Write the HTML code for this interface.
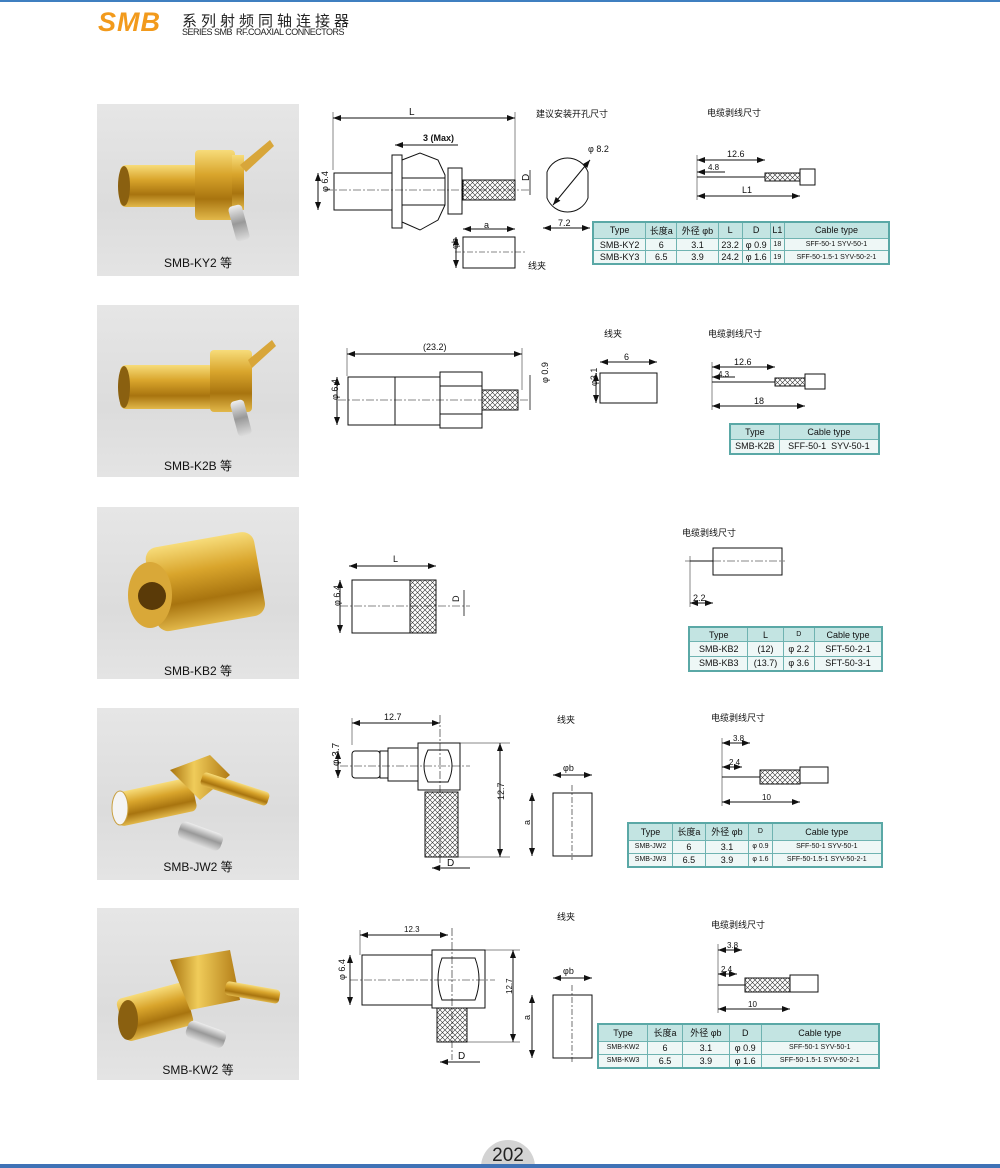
<!DOCTYPE html>
<html><head><meta charset="utf-8">
<style>
html,body{margin:0;padding:0;background:#fff;}
body{width:1000px;height:1168px;position:relative;overflow:hidden;font-family:"Liberation Sans","Noto Sans CJK SC",sans-serif;}
.abs{position:absolute;}
table.t{position:absolute;border-collapse:collapse;border:2px solid #5aa8a6;font-family:"Liberation Sans","Noto Sans CJK SC",sans-serif;color:#111;}
table.t td{border:1px solid #6fb3b1;text-align:center;padding:0;font-size:9px;background:#eef7f6;white-space:nowrap;}
table.t tr.h td{background:#c3e4e2;}
.photo{position:absolute;left:97px;width:202px;height:172px;background:linear-gradient(180deg,#e6e6e6,#dcdcdc 60%,#e4e4e4);}
.plab{position:absolute;left:0;width:202px;text-align:center;font-size:12px;color:#111;}
</style></head><body>
<div class="abs" style="left:0;top:0;width:1000px;height:2px;background:#3f7fc0"></div>
<div class="abs" style="left:98px;top:7px;font:italic bold 27px 'Liberation Sans',sans-serif;color:#f29a1c;letter-spacing:1px">SMB</div>
<div class="abs" style="left:182px;top:10px;font-size:15px;letter-spacing:4px;color:#222;font-family:'Noto Sans CJK SC',sans-serif">系列射频同轴连接器</div>
<div class="abs" style="left:182px;top:27px;font-size:9px;color:#222;letter-spacing:-0.5px">SERIES SMB &nbsp;RF.COAXIAL CONNECTORS</div>

<!-- photos -->
<div class="photo" style="top:104px"><div class="plab" style="top:150px">SMB-KY2 等</div></div>
<div class="photo" style="top:305px"><div class="plab" style="top:152px">SMB-K2B 等</div></div>
<div class="photo" style="top:507px"><div class="plab" style="top:155px">SMB-KB2 等</div></div>
<div class="photo" style="top:708px"><div class="plab" style="top:150px">SMB-JW2 等</div></div>
<div class="photo" style="top:908px"><div class="plab" style="top:153px">SMB-KW2 等</div></div>

<svg class="abs" style="left:0;top:0" width="1000" height="1168" viewBox="0 0 1000 1168">
<defs>
<linearGradient id="g" x1="0" y1="0" x2="0" y2="1"><stop offset="0" stop-color="#f7dc7a"/><stop offset="0.35" stop-color="#d9a52c"/><stop offset="0.7" stop-color="#a8740f"/><stop offset="1" stop-color="#e2b84a"/></linearGradient>
<linearGradient id="gh" x1="0" y1="0" x2="1" y2="0"><stop offset="0" stop-color="#a8740f"/><stop offset="0.4" stop-color="#f0cc5a"/><stop offset="1" stop-color="#b07a14"/></linearGradient>
<linearGradient id="s" x1="0" y1="0" x2="0" y2="1"><stop offset="0" stop-color="#eee"/><stop offset="0.5" stop-color="#999"/><stop offset="1" stop-color="#ddd"/></linearGradient>
<pattern id="hx" width="5" height="5" patternUnits="userSpaceOnUse"><path d="M0 0L5 5M5 0L0 5" stroke="#333" stroke-width="0.6"/></pattern>
<marker id="a" markerWidth="8" markerHeight="6" refX="8" refY="3" orient="auto-start-reverse" markerUnits="userSpaceOnUse"><path d="M0 0L8 3L0 6z" fill="#111"/></marker>
</defs>

<!-- photo connectors -->
<g>
 <rect x="120" y="165" width="80" height="42" rx="6" fill="url(#g)"/>
 <ellipse cx="124" cy="186" rx="6" ry="20" fill="#8a6010"/>
 <rect x="195" y="150" width="40" height="70" rx="4" fill="url(#g)"/>
 <rect x="232" y="155" width="12" height="55" fill="url(#g)"/>
 <path d="M240 165L270 140L274 146L246 172z" fill="#d8a63a"/>
 <rect x="232" y="205" width="14" height="36" rx="4" fill="url(#s)" transform="rotate(-15 239 223)"/>

 <rect x="120" y="365" width="95" height="44" rx="6" fill="url(#g)"/>
 <ellipse cx="124" cy="387" rx="6" ry="21" fill="#8a6010"/>
 <rect x="210" y="350" width="42" height="62" rx="4" fill="url(#g)"/>
 <path d="M248 360L272 340L276 346L252 368z" fill="#d8a63a"/>
 <rect x="234" y="400" width="14" height="36" rx="4" fill="url(#s)" transform="rotate(-15 241 418)"/>

 <rect x="150" y="540" width="110" height="85" rx="12" fill="url(#g)" transform="rotate(-10 200 580)"/>
 <ellipse cx="150" cy="595" rx="22" ry="33" fill="#d9a838"/>
 <circle cx="152" cy="596" r="14" fill="#5a3a08"/>

 <rect x="115" y="785" width="80" height="34" rx="6" fill="url(#g)" transform="rotate(-12 155 802)"/>
 <ellipse cx="120" cy="808" rx="8" ry="17" fill="#f4f4f4" stroke="#c9a040"/>
 <path d="M170 770L210 755L230 775L200 800z" fill="url(#gh)"/>
 <rect x="200" y="782" width="70" height="14" rx="4" fill="url(#g)" transform="rotate(18 235 789)"/>
 <rect x="178" y="827" width="45" height="18" rx="6" fill="url(#s)" transform="rotate(20 200 836)"/>

 <rect x="120" y="990" width="70" height="44" rx="6" fill="url(#g)" transform="rotate(-15 155 1012)"/>
 <ellipse cx="128" cy="1020" rx="10" ry="20" fill="#8a6010"/>
 <path d="M170 960L230 950L240 1000L190 1010z" fill="url(#gh)"/>
 <rect x="225" y="985" width="55" height="14" rx="4" fill="url(#g)" transform="rotate(10 250 992)"/>
 <rect x="186" y="1025" width="40" height="18" rx="6" fill="url(#s)" transform="rotate(20 205 1034)"/>
</g>

<g font-family="Liberation Sans, Noto Sans CJK SC, sans-serif" fill="#111" font-size="9" stroke-linecap="butt">
<g fill="none" stroke="#111" stroke-width="1">
<!-- section 1 -->
 <line x1="333" y1="118" x2="515" y2="118" marker-start="url(#a)" marker-end="url(#a)"/>
 <line x1="333" y1="112" x2="333" y2="170" stroke-width="0.5"/><line x1="515" y1="112" x2="515" y2="180" stroke-width="0.5"/>
 <line x1="395" y1="145" x2="420" y2="145" marker-start="url(#a)"/><line x1="420" y1="145" x2="458" y2="145"/>
 <rect x="334" y="173" width="58" height="37"/>
 <rect x="392" y="155" width="10" height="73"/>
 <path d="M402 160L420 153L438 160L445 175L445 205L438 220L420 230L402 222z"/>
 <line x1="402" y1="178" x2="445" y2="178"/><line x1="402" y1="205" x2="445" y2="205"/>
 <rect x="448" y="168" width="14" height="46"/>
 <rect x="463" y="180" width="52" height="20" fill="url(#hx)"/>
 <line x1="325" y1="190" x2="530" y2="190" stroke-dasharray="8 2 2 2" stroke-width="0.6"/>
 <line x1="318" y1="173" x2="318" y2="210" marker-start="url(#a)" marker-end="url(#a)"/>
 <line x1="530" y1="170" x2="530" y2="195" stroke-width="0.8"/>
 <path d="M547 172A22 22 0 0 1 588 172L588 198A22 22 0 0 1 547 198Z"/>
 <line x1="553" y1="205" x2="590" y2="160" marker-start="url(#a)" marker-end="url(#a)"/>
 <line x1="543" y1="228" x2="590" y2="228" marker-start="url(#a)" marker-end="url(#a)"/>
 <line x1="463" y1="229" x2="515" y2="229" marker-start="url(#a)" marker-end="url(#a)"/>
 <rect x="463" y="237" width="52" height="31"/>
 <line x1="455" y1="252" x2="525" y2="252" stroke-dasharray="6 2 2 2" stroke-width="0.6"/>
 <line x1="456" y1="237" x2="456" y2="268" marker-start="url(#a)" marker-end="url(#a)"/>
 <line x1="697" y1="177" x2="765" y2="177"/><rect x="765" y="173" width="35" height="8" fill="url(#hx)"/><rect x="800" y="169" width="15" height="16"/>
 <line x1="697" y1="160" x2="765" y2="160" marker-start="url(#a)" marker-end="url(#a)"/>
 <line x1="697" y1="172" x2="725" y2="172" marker-start="url(#a)"/>
 <line x1="697" y1="196" x2="800" y2="196" marker-start="url(#a)" marker-end="url(#a)"/>
 <line x1="697" y1="155" x2="697" y2="200" stroke-width="0.5"/>
<!-- section 2 -->
 <line x1="347" y1="354" x2="522" y2="354" marker-start="url(#a)" marker-end="url(#a)"/>
 <line x1="347" y1="348" x2="347" y2="376" stroke-width="0.5"/><line x1="522" y1="348" x2="522" y2="390" stroke-width="0.5"/>
 <rect x="348" y="377" width="92" height="48"/><line x1="395" y1="377" x2="395" y2="425"/>
 <path d="M440 372L482 372L482 428L440 428z"/><line x1="440" y1="386" x2="482" y2="386"/><line x1="440" y1="414" x2="482" y2="414"/>
 <rect x="482" y="390" width="36" height="20" fill="url(#hx)"/>
 <line x1="338" y1="400" x2="530" y2="400" stroke-dasharray="8 2 2 2" stroke-width="0.6"/>
 <line x1="337" y1="377" x2="337" y2="425" marker-start="url(#a)" marker-end="url(#a)"/>
 <line x1="530" y1="375" x2="530" y2="410" stroke-width="0.8"/>
 <rect x="600" y="373" width="57" height="30"/><line x1="600" y1="362" x2="657" y2="362" marker-start="url(#a)" marker-end="url(#a)"/>
 <line x1="596" y1="373" x2="596" y2="403" marker-start="url(#a)" marker-end="url(#a)"/>
 <line x1="712" y1="382" x2="775" y2="382"/><rect x="775" y="378" width="30" height="8" fill="url(#hx)"/><rect x="805" y="374" width="20" height="15"/>
 <line x1="712" y1="367" x2="775" y2="367" marker-start="url(#a)" marker-end="url(#a)"/>
 <line x1="712" y1="377" x2="735" y2="377" marker-start="url(#a)"/>
 <line x1="712" y1="406" x2="805" y2="406" marker-start="url(#a)" marker-end="url(#a)"/>
 <line x1="712" y1="362" x2="712" y2="410" stroke-width="0.5"/>
<!-- section 3 -->
 <line x1="349" y1="566" x2="436" y2="566" marker-start="url(#a)" marker-end="url(#a)"/>
 <rect x="352" y="580" width="84" height="53"/><rect x="410" y="580" width="26" height="53" fill="url(#hx)"/>
 <line x1="340" y1="606" x2="470" y2="606" stroke-dasharray="8 2 2 2" stroke-width="0.6"/>
 <line x1="340" y1="580" x2="340" y2="633" marker-start="url(#a)" marker-end="url(#a)"/>
 <line x1="464" y1="590" x2="464" y2="616" stroke-width="0.8"/>
 <line x1="690" y1="561" x2="713" y2="561"/><rect x="713" y="548" width="69" height="27"/>
 <line x1="685" y1="561" x2="785" y2="561" stroke-dasharray="8 2 2 2" stroke-width="0.6"/>
 <line x1="690" y1="556" x2="690" y2="607" stroke-width="0.5"/>
 <line x1="690" y1="603" x2="713" y2="603" marker-start="url(#a)" marker-end="url(#a)"/>
<!-- section 4 -->
 <line x1="352" y1="723" x2="440" y2="723" marker-start="url(#a)" marker-end="url(#a)"/>
 <line x1="352" y1="718" x2="352" y2="745" stroke-width="0.5"/>
 <rect x="352" y="751" width="28" height="27" rx="3"/><rect x="380" y="751" width="8" height="27"/><rect x="388" y="748" width="30" height="33"/>
 <rect x="418" y="743" width="42" height="47"/><path d="M428 750Q420 766 428 782L448 782Q456 766 448 750z"/>
 <rect x="425" y="792" width="33" height="65" fill="url(#hx)"/>
 <line x1="340" y1="766" x2="470" y2="766" stroke-dasharray="8 2 2 2" stroke-width="0.6"/>
 <line x1="440" y1="715" x2="440" y2="870" stroke-dasharray="8 2 2 2" stroke-width="0.6"/>
 <line x1="338" y1="751" x2="338" y2="778" marker-start="url(#a)" marker-end="url(#a)"/>
 <line x1="500" y1="743" x2="500" y2="857" marker-start="url(#a)" marker-end="url(#a)"/>
 <line x1="460" y1="743" x2="510" y2="743" stroke-width="0.5"/><line x1="458" y1="857" x2="510" y2="857" stroke-width="0.5"/>
 <line x1="432" y1="868" x2="470" y2="868" marker-start="url(#a)"/>
 <rect x="553" y="793" width="39" height="63"/>
 <line x1="572" y1="785" x2="572" y2="860" stroke-dasharray="6 2 2 2" stroke-width="0.6"/>
 <line x1="553" y1="775" x2="592" y2="775" marker-start="url(#a)" marker-end="url(#a)"/>
 <line x1="532" y1="793" x2="532" y2="856" marker-start="url(#a)" marker-end="url(#a)"/>
 <line x1="722" y1="777" x2="760" y2="777"/><rect x="760" y="770" width="40" height="14" fill="url(#hx)"/><rect x="800" y="767" width="28" height="16"/>
 <line x1="722" y1="743" x2="750" y2="743" marker-start="url(#a)" marker-end="url(#a)"/>
 <line x1="722" y1="767" x2="742" y2="767" marker-start="url(#a)" marker-end="url(#a)"/>
 <line x1="722" y1="802" x2="800" y2="802" marker-start="url(#a)" marker-end="url(#a)"/>
 <line x1="722" y1="738" x2="722" y2="806" stroke-width="0.5"/>
<!-- section 5 -->
 <line x1="360" y1="935" x2="448" y2="935" marker-start="url(#a)" marker-end="url(#a)"/>
 <line x1="360" y1="930" x2="360" y2="955" stroke-width="0.5"/>
 <rect x="362" y="955" width="70" height="50"/><rect x="432" y="950" width="53" height="58"/>
 <path d="M442 958Q434 979 442 1000L475 1000Q483 979 475 958z"/>
 <rect x="437" y="1008" width="30" height="34" fill="url(#hx)"/>
 <line x1="350" y1="980" x2="495" y2="980" stroke-dasharray="8 2 2 2" stroke-width="0.6"/>
 <line x1="452" y1="928" x2="452" y2="1060" stroke-dasharray="8 2 2 2" stroke-width="0.6"/>
 <line x1="350" y1="955" x2="350" y2="1005" marker-start="url(#a)" marker-end="url(#a)"/>
 <line x1="513" y1="950" x2="513" y2="1042" marker-start="url(#a)" marker-end="url(#a)"/>
 <line x1="485" y1="950" x2="520" y2="950" stroke-width="0.5"/><line x1="467" y1="1042" x2="520" y2="1042" stroke-width="0.5"/>
 <line x1="440" y1="1062" x2="480" y2="1062" marker-start="url(#a)"/>
 <rect x="553" y="995" width="39" height="63"/>
 <line x1="572" y1="985" x2="572" y2="1062" stroke-dasharray="6 2 2 2" stroke-width="0.6"/>
 <line x1="553" y1="978" x2="592" y2="978" marker-start="url(#a)" marker-end="url(#a)"/>
 <line x1="532" y1="995" x2="532" y2="1058" marker-start="url(#a)" marker-end="url(#a)"/>
 <line x1="718" y1="985" x2="745" y2="985"/><rect x="745" y="978" width="45" height="14" fill="url(#hx)"/><rect x="790" y="975" width="28" height="17"/>
 <line x1="718" y1="950" x2="742" y2="950" marker-start="url(#a)" marker-end="url(#a)"/>
 <line x1="718" y1="974" x2="737" y2="974" marker-start="url(#a)" marker-end="url(#a)"/>
 <line x1="718" y1="1009" x2="790" y2="1009" marker-start="url(#a)" marker-end="url(#a)"/>
 <line x1="718" y1="944" x2="718" y2="1013" stroke-width="0.5"/>
</g>
<!-- labels -->
<text x="409" y="115" font-size="10">L</text>
<text x="423" y="141" font-size="9" font-weight="bold">3 (Max)</text>
<text x="320" y="200" font-size="9" transform="rotate(-90 320 192)">φ 6.4</text>
<text x="526" y="188" font-size="10" transform="rotate(-90 524 183)">D</text>
<text x="588" y="152">φ 8.2</text>
<text x="558" y="226">7.2</text>
<text x="484" y="228">a</text>
<text x="455" y="258" transform="rotate(-90 452 252)">φb</text>
<text x="528" y="269" font-size="9">线夹</text>
<text x="536" y="117" font-size="9">建议安装开孔尺寸</text>
<text x="707" y="116" font-size="9">电缆剥线尺寸</text>
<text x="727" y="157">12.6</text><text x="708" y="170" font-size="8">4.8</text><text x="742" y="193">L1</text>

<text x="423" y="350">(23.2)</text>
<text x="330" y="408" transform="rotate(-90 330 400)">φ 6.4</text>
<text x="543" y="392" transform="rotate(-90 541 385)">φ 0.9</text>
<text x="604" y="337">线夹</text><text x="624" y="360">6</text>
<text x="593" y="394" transform="rotate(-90 591 388)">φ3.1</text>
<text x="708" y="337">电缆剥线尺寸</text>
<text x="734" y="365">12.6</text><text x="718" y="377" font-size="8">4.3</text><text x="754" y="404">18</text>

<text x="393" y="562">L</text>
<text x="332" y="614" transform="rotate(-90 332 606)">φ 6.4</text>
<text x="453" y="604" transform="rotate(-90 455 600)">D</text>
<text x="682" y="536">电缆剥线尺寸</text>
<text x="693" y="601">2.2</text>

<text x="384" y="720">12.7</text>
<text x="331" y="774" font-size="10" transform="rotate(-90 331 766)">φ 3.7</text>
<text x="496" y="808" transform="rotate(-90 496 800)">12.7</text>
<text x="447" y="866" font-size="10">D</text>
<text x="557" y="723">线夹</text>
<text x="563" y="771">φb</text>
<text x="527" y="828" transform="rotate(-90 527 825)">a</text>
<text x="711" y="721">电缆剥线尺寸</text>
<text x="733" y="741" font-size="8">3.8</text><text x="729" y="765" font-size="8">2.4</text><text x="762" y="800" font-size="8">10</text>

<text x="404" y="932" font-size="8">12.3</text>
<text x="337" y="988" transform="rotate(-90 337 980)">φ 6.4</text>
<text x="508" y="1002" font-size="8" transform="rotate(-90 506 996)">12.7</text>
<text x="458" y="1059" font-size="10">D</text>
<text x="557" y="920">线夹</text>
<text x="563" y="974">φb</text>
<text x="527" y="1023" transform="rotate(-90 527 1020)">a</text>
<text x="711" y="928">电缆剥线尺寸</text>
<text x="727" y="948" font-size="8">3.8</text><text x="721" y="972" font-size="8">2.4</text><text x="748" y="1007" font-size="8">10</text>
</g>
<circle cx="508" cy="1167" r="27" fill="#d3d3d3"/>
<text x="508" y="1161" font-size="19" text-anchor="middle" fill="#222" font-family="Liberation Sans,sans-serif">202</text>
<rect x="0" y="1164" width="1000" height="4" fill="#3f72b6"/>
</svg>

<table class="t" style="left:592px;top:221px;width:298px;height:44px">
<tr class="h"><td>Type</td><td>长度a</td><td>外径 φb</td><td>L</td><td>D</td><td>L1</td><td>Cable type</td></tr>
<tr><td>SMB-KY2</td><td>6</td><td>3.1</td><td>23.2</td><td>φ 0.9</td><td style="font-size:7px">18</td><td style="font-size:7px">SFF-50-1 SYV-50-1</td></tr>
<tr><td>SMB-KY3</td><td>6.5</td><td>3.9</td><td>24.2</td><td>φ 1.6</td><td style="font-size:7px">19</td><td style="font-size:7px">SFF-50-1.5-1 SYV-50-2-1</td></tr>
</table>
<table class="t" style="left:729px;top:423px;width:151px;height:32px">
<tr class="h"><td>Type</td><td>Cable type</td></tr>
<tr><td>SMB-K2B</td><td>SFF-50-1 &nbsp;SYV-50-1</td></tr>
</table>
<table class="t" style="left:688px;top:626px;width:195px;height:46px">
<tr class="h"><td>Type</td><td>L</td><td style="font-size:7px">D</td><td>Cable type</td></tr>
<tr><td>SMB-KB2</td><td>(12)</td><td>φ 2.2</td><td>SFT-50-2-1</td></tr>
<tr><td>SMB-KB3</td><td>(13.7)</td><td>φ 3.6</td><td>SFT-50-3-1</td></tr>
</table>
<table class="t" style="left:627px;top:822px;width:256px;height:46px">
<tr class="h"><td>Type</td><td>长度a</td><td>外径 φb</td><td style="font-size:7px">D</td><td>Cable type</td></tr>
<tr><td style="font-size:7px">SMB-JW2</td><td>6</td><td>3.1</td><td style="font-size:7px">φ 0.9</td><td style="font-size:7px">SFF-50-1 SYV-50-1</td></tr>
<tr><td style="font-size:7px">SMB-JW3</td><td>6.5</td><td>3.9</td><td style="font-size:7px">φ 1.6</td><td style="font-size:7px">SFF-50-1.5-1 SYV-50-2-1</td></tr>
</table>
<table class="t" style="left:597px;top:1023px;width:283px;height:46px">
<tr class="h"><td>Type</td><td>长度a</td><td>外径 φb</td><td>D</td><td>Cable type</td></tr>
<tr><td style="font-size:7px">SMB-KW2</td><td>6</td><td>3.1</td><td>φ 0.9</td><td style="font-size:7px">SFF-50-1 SYV-50-1</td></tr>
<tr><td style="font-size:7px">SMB-KW3</td><td>6.5</td><td>3.9</td><td>φ 1.6</td><td style="font-size:7px">SFF-50-1.5-1 SYV-50-2-1</td></tr>
</table>
</body></html>
